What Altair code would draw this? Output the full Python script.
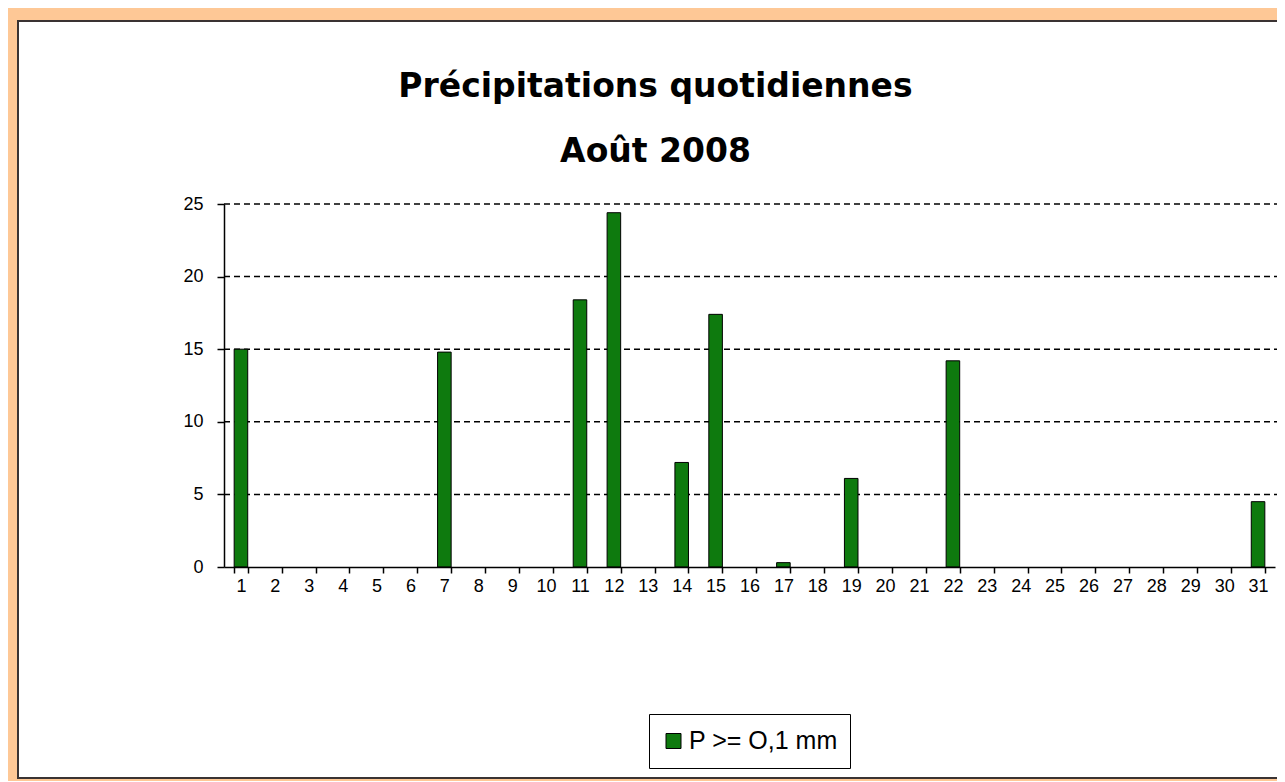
import altair as alt
import pandas as pd

# Données
jours = list(range(1, 32))
pluie = [15.0, 0, 0, 0, 0, 0, 14.8, 0, 0, 0,
         18.4, 24.4, 0, 7.2, 17.4, 0, 0.3, 0, 6.1, 0,
         0, 14.2, 0, 0, 0, 0, 0, 0, 0, 0, 4.5]
graduations = [0, 5, 10, 15, 20, 25]
grille = [5, 10, 15, 20, 25]
serie = "P >= O,1 mm"
titre = ["Précipitations quotidiennes", "Août 2008"]

W, H = 1051, 363

df = pd.DataFrame({"jour": jours, "mm": pluie, "serie": [serie] * len(jours)})
dg = pd.DataFrame({"v": grille})

frame = alt.Chart(alt.Data(values=[{"a": 1}])).mark_rect(
    fill="white", stroke="#3a3333", strokeWidth=2
).encode(
    x=alt.value(-206), x2=alt.value(1100), y=alt.value(-183), y2=alt.value(574)
)

rules = alt.Chart(dg).mark_rule(color="black", strokeWidth=1.5, strokeDash=[6, 4]).encode(
    y=alt.Y("v:Q"),
    x=alt.value(0),
    x2=alt.value(W + 2),
)

bars = alt.Chart(df).transform_filter("datum.mm > 0").mark_bar(
    stroke="black", strokeWidth=1
).encode(
    x=alt.X(
        "jour:O",
        scale=alt.Scale(domain=jours, paddingInner=0.6, paddingOuter=0.3),
        axis=alt.Axis(
            title=None, labelAngle=0, tickBand="extent", tickSize=6,
            labelFont="Liberation Sans", labelFontSize=18, labelPadding=4,
            labelColor="black", domainColor="black", domainWidth=1.5,
            tickColor="black", tickWidth=1.5, grid=False, zindex=1,
        ),
    ),
    y=alt.Y(
        "mm:Q",
        scale=alt.Scale(domain=[0, 25], nice=False),
        axis=alt.Axis(
            title=None, values=graduations, grid=False, tickSize=7,
            labelFont="Liberation Sans", labelFontSize=18, labelPadding=14,
            labelColor="black", domainColor="black", domainWidth=1.5,
            tickColor="black", tickWidth=1.5, zindex=1,
        ),
    ),
    color=alt.Color(
        "serie:N",
        scale=alt.Scale(range=["#0E7A0E"]),
        legend=alt.Legend(
            title=None, orient="none", legendX=425, legendY=510,
            strokeColor="black", fillColor="white", padding=12,
            clipHeight=30,
            symbolType="square", symbolSize=225, symbolStrokeColor="black",
            symbolStrokeWidth=1, symbolOpacity=1,
            labelFont="Liberation Sans", labelFontSize=25, labelColor="black",
            labelOffset=3, zindex=1,
        ),
    ),
)

chart = alt.layer(frame, rules, bars).properties(
    width=W,
    height=H,
    title=alt.TitleParams(
        text=titre, font="DejaVu Sans", fontSize=33, fontWeight="bold",
        color="black", anchor="middle", frame="group", dx=-94, offset=-149,
        lineHeight=65, zindex=1,
    ),
    background="#FEC896",
    padding={"left": 216, "top": 196, "right": 2, "bottom": 214},
    autosize=alt.AutoSizeParams(type="none"),
).configure_view(stroke=None)

chart.save("out.html", embed_options={"renderer": "svg", "actions": False})
